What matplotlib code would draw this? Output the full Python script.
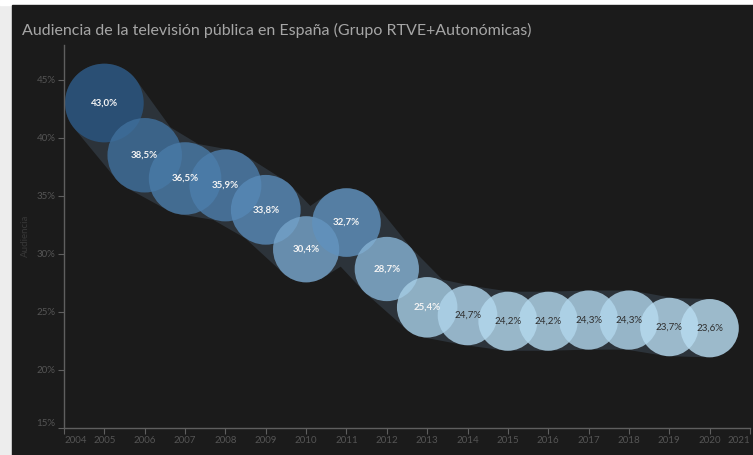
import matplotlib
matplotlib.use("Agg")
import matplotlib.pyplot as plt
import numpy as np
from matplotlib.colors import LinearSegmentedColormap
from matplotlib.patches import Polygon, Rectangle

years = [2005, 2006, 2007, 2008, 2009, 2010, 2011, 2012,
         2013, 2014, 2015, 2016, 2017, 2018, 2019, 2020]
audience = [43.0, 38.5, 36.5, 35.9, 33.8, 30.4, 32.7, 28.7,
            25.4, 24.7, 24.2, 24.2, 24.3, 24.3, 23.7, 23.6]
labels = ["43,0%", "38,5%", "36,5%", "35,9%", "33,8%", "30,4%", "32,7%", "28,7%",
          "25,4%", "24,7%", "24,2%", "24,2%", "24,3%", "24,3%", "23,7%", "23,6%"]
xticks = list(range(2004, 2022))
yticks = [15, 20, 25, 30, 35, 40, 45]
ytick_labels = ["15%", "20%", "25%", "30%", "35%", "40%", "45%"]

TITLE = "Audiencia de la televisión pública en España (Grupo RTVE+Autonómicas)"
BG = "#1b1b1b"
RIBBON = "#2c333a"
W, H = 753, 455
DPI = 100

plt.rcParams["font.family"] = ["Lato", "DejaVu Sans"]

fig = plt.figure(figsize=(W / DPI, H / DPI), dpi=DPI, facecolor="#ededed")
fig.patches.append(Rectangle((0, 1 - 5 / H), 1, 5 / H, transform=fig.transFigure,
                             color="#ffffff", zorder=-2))
fig.patches.append(Rectangle((12 / W, 0), 1 - 12 / W, 1 - 5 / H, transform=fig.transFigure,
                             color=BG, zorder=-2))

ax = fig.add_axes([64 / W, 27 / H, (750 - 64) / W, (428 - 45) / H])
ax.set_zorder(2)
ax.set_facecolor("none")
ax.set_xlim(2004, 2021)
ax.set_ylim(15, 48)

# bubble radius in pixels, area proportional to value
k = 6.0
r_px = k * np.sqrt(np.array(audience))

cmap = LinearSegmentedColormap.from_list(
    "tblue", [(0.0, "#b9ddf1"), (0.5, "#5a8dbb"), (1.0, "#2a5783")])
vmin, vmax = min(audience), max(audience)
colors = [cmap((v - vmin) / (vmax - vmin)) for v in audience]


def hull(points):
    pts = sorted(map(tuple, points))
    def cross(o, a, b):
        return (a[0] - o[0]) * (b[1] - o[1]) - (a[1] - o[1]) * (b[0] - o[0])
    lower, upper = [], []
    for p in pts:
        while len(lower) >= 2 and cross(lower[-2], lower[-1], p) <= 0:
            lower.pop()
        lower.append(p)
    for p in reversed(pts):
        while len(upper) >= 2 and cross(upper[-2], upper[-1], p) <= 0:
            upper.pop()
        upper.append(p)
    return np.array(lower[:-1] + upper[:-1])


# ribbon connecting consecutive bubbles
centers = ax.transData.transform(np.column_stack([years, audience]))
theta = np.linspace(0, 2 * np.pi, 120, endpoint=False)
inv = ax.transData.inverted()
for i in range(len(years) - 1):
    ring = []
    for j in (i, i + 1):
        cx, cy = centers[j]
        ring.append(np.column_stack([cx + r_px[j] * np.cos(theta), cy + r_px[j] * np.sin(theta)]))
    h = hull(np.vstack(ring))
    ax.add_patch(Polygon(inv.transform(h), closed=True, facecolor=RIBBON,
                         edgecolor="none", zorder=1))

sizes = (2 * r_px * 72 / DPI) ** 2
ax.scatter(years, audience, s=sizes, c=colors, alpha=0.8, linewidths=0, zorder=2)

for x, y, lab, v in zip(years, audience, labels, audience):
    tc = "#f4f4f4" if v >= 25 else "#2e2e2e"
    ax.text(x, y, lab, ha="center", va="center", fontsize=7, color=tc,
            fontweight="bold" if v >= 25 else "normal", zorder=3)

axis_col = "#5f5f5f"
for side in ("top", "right"):
    ax.spines[side].set_visible(False)
for side in ("left", "bottom"):
    ax.spines[side].set_color(axis_col)
    ax.spines[side].set_linewidth(1.0)

ax.set_xticks(xticks)
ax.set_xticklabels([str(y) for y in xticks])
ax.set_yticks(yticks)
ax.set_yticklabels(ytick_labels)
ax.tick_params(colors=axis_col, labelcolor="#555555", labelsize=7, length=4, width=0.8, pad=2)
xt = ax.get_xticklabels()
xt[0].set_ha("left")
xt[-1].set_ha("right")
ax.get_yticklabels()[0].set_va("bottom")

ax.set_ylabel("Audiencia", color="#383838", fontsize=7)
ax.yaxis.set_label_coords((30 - 64) / (750 - 64), (428 - 236) / (428 - 45))

fig.text(22 / W, 1 - 30 / H, TITLE, color="#a6a6a6", fontsize=11.5, va="center", ha="left")

fig.savefig("out.png", dpi=DPI, facecolor=fig.get_facecolor())
